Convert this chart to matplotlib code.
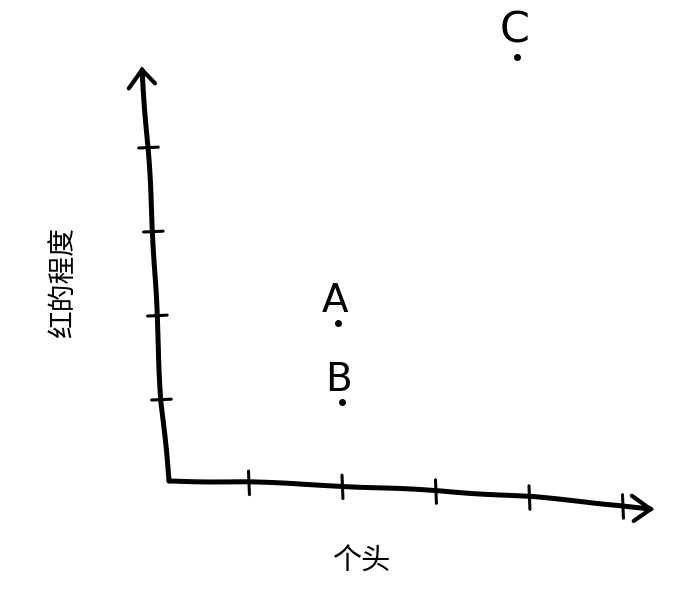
import numpy as np
import matplotlib
matplotlib.use("Agg")
import matplotlib.pyplot as plt

plt.rcParams['font.family'] = ['Noto Sans CJK SC', 'DejaVu Sans']

# points (in tick units)
labels = ['A', 'B', 'C']
px = [1.96, 2.0, 3.87]
py = [1.92, 0.98, 5.08]

x_ticks = [1, 2, 3, 4, 5]
y_ticks = [1, 2, 3, 4]
x_label = '个头'
y_label = '红的程度'

# hand-drawn axis paths
xaxis_x = [0.15, 0.995, 2.01, 3.05, 4.05, 4.95, 5.3]
xaxis_y = [0.036, 0.024, -0.024, -0.083, -0.155, -0.25, -0.30]
yaxis_x = [0.15, 0.064, 0.02, -0.02, -0.075, -0.139]
yaxis_y = [0.036, 0.99, 2.0, 2.93, 4.0, 4.93]

fig = plt.figure(figsize=(7, 5.89), dpi=100)
ax = fig.add_axes([0, 0, 1, 1])
ax.set_xlim(-1.658, 5.829)
ax.set_ylim(-1.25, 5.762)
ax.axis('off')

lw = 3.6
sk = (0.5, 150, 2)

l, = ax.plot(xaxis_x, xaxis_y, color='black', lw=lw, solid_capstyle='round', solid_joinstyle='round')
l.set_sketch_params(*sk)
l, = ax.plot(yaxis_x, yaxis_y, color='black', lw=lw, solid_capstyle='round', solid_joinstyle='round')
l.set_sketch_params(*sk)

# arrow heads
ax.plot([5.1, 5.3, 5.12], [-0.14, -0.30, -0.44], color='black', lw=lw - 0.6,
        solid_capstyle='round', solid_joinstyle='miter')
ax.plot([-0.28, -0.139, 0.0], [4.71, 4.93, 4.77], color='black', lw=lw - 0.6,
        solid_capstyle='round', solid_joinstyle='miter')

# tick marks
for t in x_ticks:
    yy = np.interp(t, xaxis_x, xaxis_y)
    ax.plot([t, t + 0.01], [yy + 0.13, yy - 0.15], color='black', lw=2.2, solid_capstyle='round')
for t in y_ticks:
    xx = np.interp(t, yaxis_y, yaxis_x)
    ax.plot([xx - 0.1, xx + 0.11], [t, t + 0.01], color='black', lw=2.2, solid_capstyle='round')

# points and letters
ax.plot(px, py, 'o', color='black', ms=4, mec='black')
for lab, x, y in zip(labels, px, py):
    big = lab == 'C'
    ax.text(x - (0.02 if big else 0.04), y + (0.18 if big else 0.13), lab,
            ha='center', va='baseline', fontsize=31 if big else 28,
            family=['Liberation Sans Narrow', 'DejaVu Sans'], color='black')

ax.text(2.2, -0.92, x_label, ha='center', va='center', fontsize=21, color='black')
ax.text(-0.98, 2.4, y_label, ha='center', va='center', fontsize=20, rotation=90, color='black')

fig.savefig('out.png', dpi=100, facecolor='white')
